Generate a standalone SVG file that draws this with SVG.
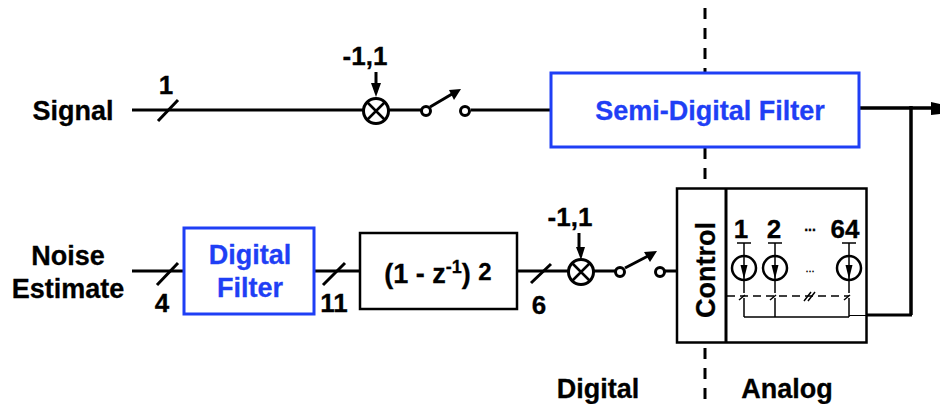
<svg xmlns="http://www.w3.org/2000/svg" width="940" height="404" viewBox="0 0 940 404">
<style>
text{font-family:"Liberation Sans",Arial,sans-serif;font-weight:700;fill:#000;stroke:#000;stroke-width:.3;text-anchor:middle}
.l{font-size:27px}
.n{font-size:26px}
.b{fill:#1f3ff5;stroke:#1f3ff5;font-size:27px}
.w{fill:none;stroke:#000;stroke-width:3}
.t{fill:none;stroke:#000;stroke-width:1.5}
.o{fill:#fff;stroke:#000;stroke-width:3}
.bb{fill:#fff;stroke:#1f3ff5;stroke-width:3}
.m{fill:#fff;stroke:#000;stroke-width:2.500}
.f{fill:#000;stroke:none}
</style>
<defs>
<g id="mul"><circle r="12.500" class="o"/><path d="M-8.500-8.500L8.500 8.500M-8.500 8.500L8.500-8.500" fill="none" stroke="#000" stroke-width="2.500"/></g>
<g id="src"><path d="M0-25V25M-7-25H7" class="t"/><circle r="12" fill="none" stroke="#000" stroke-width="2.500"/><path d="M-3.500-3H3.500L0 11Z" class="f"/></g>
</defs>
<g id="connectors">
<path class="w" d="M132 110H363M387 110H421M471 110H550"/>
<path d="M859 108H932M911 106V315" fill="none" stroke="#000" stroke-width="3.500"/>
<path class="w" d="M132 271H183M315 271H359M518 271H568M594 271H616M665 271H677"/>
<path class="w" d="M912 315H866"/>
<path class="f" d="M931 102L940 104V114L931 115Z"/>
<path class="w" d="M158 121L178 100M157 285L178 263M323 285L345 263M531 283L551 264"/>
<path class="w" d="M376 72V86"/><path class="f" d="M371 83H381L376 97Z"/>
<path class="w" d="M579 233V250"/><path class="f" d="M576 247H585L581 260Z"/>
<path class="w" d="M430 107L452 94"/><path class="f" d="M461 89L449 90L454 100Z"/>
<path class="w" d="M625 268L648 256"/><path class="f" d="M657 251L644 252L650 262Z"/>
<path d="M705 8V404" fill="none" stroke="#000" stroke-width="3" stroke-dasharray="11 9"/>
</g>
<g id="switch1"><circle cx="426" cy="111" r="4.500" class="o"/><circle cx="465" cy="111" r="4.500" class="o"/></g>
<g id="switch2"><circle cx="620" cy="272" r="4.500" class="o"/><circle cx="660" cy="272" r="4.500" class="o"/></g>
<g id="mixer1"><use href="#mul" x="376" y="111"/></g>
<g id="mixer2"><use href="#mul" x="581" y="272"/></g>
<g id="semi"><rect x="551" y="73" width="308" height="74" class="bb"/><text x="710" y="120" class="b">Semi-Digital Filter</text></g>
<g id="digital"><rect x="184" y="228" width="130" height="86" class="bb"/><text x="250" y="264" class="b">Digital</text><text x="250" y="297" class="b">Filter</text></g>
<g id="diff"><rect x="360" y="233" width="157" height="76" class="m"/><text x="438" y="283" class="l">(1 - z<tspan font-size="18" dy="-10">-1</tspan><tspan dy="10">) </tspan><tspan font-size="24" dy="-3">2</tspan></text></g>
<g id="dac">
<rect x="677" y="188.500" width="189.500" height="154" class="m"/>
<path d="M726 188V343" class="w"/>
<text transform="translate(715 270) rotate(-90)" class="l">Control</text>
<text x="741" y="238" class="n">1</text><text x="774" y="238" class="n">2</text><text x="845" y="238" class="n">64</text>
<text x="810" y="231" font-size="14">...</text>
<text x="810" y="272" font-size="11" stroke="none" style="font-weight:400">...</text>
<use href="#src" x="744" y="268"/><use href="#src" x="775" y="268"/><use href="#src" x="849" y="268"/>
<path d="M727 296H849" fill="none" stroke="#000" stroke-width="1.500" stroke-dasharray="8 5"/>
<path d="M739 300L745 295M770 300L776 295M804 301L811 292M808 301L815 292M844 300L850 295" class="t"/>
<path d="M744 298V317M775 298V317M849 298V317M744 317H849" class="t"/>
<path d="M849 315.500H866" fill="none" stroke="#000"/>
</g>
<g id="labels">
<text x="73" y="120" class="l">Signal</text><text x="166" y="94" class="n">1</text>
<text x="365" y="65" class="n">-1,1</text><text x="570" y="226" class="n">-1,1</text>
<text x="68" y="265" class="l">Noise</text><text x="68" y="298" class="l">Estimate</text>
<text x="162" y="312" class="n">4</text><text x="334" y="312" class="n">11</text><text x="539" y="314" class="n">6</text>
<text x="598" y="398" class="l">Digital</text><text x="787" y="398" class="l">Analog</text>
</g>
</svg>
